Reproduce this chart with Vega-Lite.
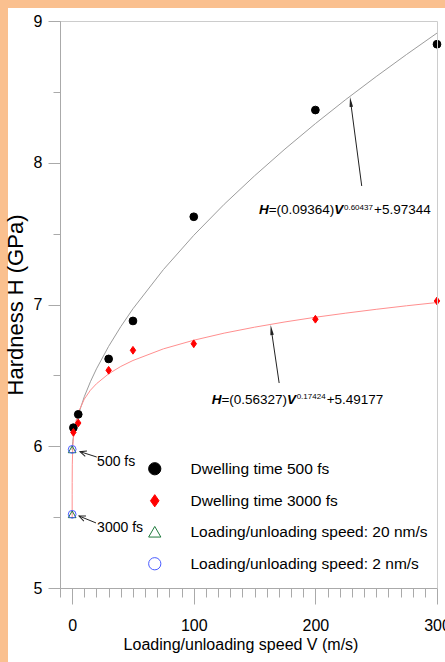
{
  "$schema": "https://vega.github.io/schema/vega-lite/v6.json",
  "width": 377,
  "height": 567,
  "autosize": {"type": "none"},
  "padding": {"left": 60, "top": 21, "right": 8, "bottom": 74},
  "background": "#FAC08F",
  "config": {
    "view": {"stroke": null},
    "axis": {"grid": false, "domainColor": "#aaaaaa", "tickColor": "#aaaaaa", "labelColor": "#000000", "titleColor": "#000000", "labelFlush": false, "labelOverlap": false}
  },
  "datasets": {
    "panel": [{"V": -52.76, "V2": 330, "H": 9.0917, "H2": 4.3}],
    "points": [
      {"V": 1, "H": 6.131, "series": "Dwelling time 500 fs"},
      {"V": 5, "H": 6.225, "series": "Dwelling time 500 fs"},
      {"V": 30, "H": 6.616, "series": "Dwelling time 500 fs"},
      {"V": 50, "H": 6.884, "series": "Dwelling time 500 fs"},
      {"V": 100, "H": 7.619, "series": "Dwelling time 500 fs"},
      {"V": 200, "H": 8.372, "series": "Dwelling time 500 fs"},
      {"V": 300, "H": 8.836, "series": "Dwelling time 500 fs"},
      {"V": 1, "H": 6.098, "series": "Dwelling time 3000 fs"},
      {"V": 5, "H": 6.164, "series": "Dwelling time 3000 fs"},
      {"V": 30, "H": 6.536, "series": "Dwelling time 3000 fs"},
      {"V": 50, "H": 6.677, "series": "Dwelling time 3000 fs"},
      {"V": 100, "H": 6.723, "series": "Dwelling time 3000 fs"},
      {"V": 200, "H": 6.896, "series": "Dwelling time 3000 fs"},
      {"V": 300, "H": 7.025, "series": "Dwelling time 3000 fs"},
      {"V": 0, "H": 5.978, "series": "Loading/unloading speed: 20 nm/s"},
      {"V": 0, "H": 5.520, "series": "Loading/unloading speed: 20 nm/s"},
      {"V": 0, "H": 5.978, "series": "Loading/unloading speed: 2 nm/s"},
      {"V": 0, "H": 5.520, "series": "Loading/unloading speed: 2 nm/s"}
    ],
    "fit500": [
      {"V": 0, "H": 5.973}, {"V": 0.01, "H": 5.979}, {"V": 0.1, "H": 5.997}, {"V": 0.5, "H": 6.035},
      {"V": 1, "H": 6.067}, {"V": 2, "H": 6.116}, {"V": 3, "H": 6.155}, {"V": 5, "H": 6.221},
      {"V": 10, "H": 6.350}, {"V": 15, "H": 6.455}, {"V": 20, "H": 6.546}, {"V": 30, "H": 6.705},
      {"V": 40, "H": 6.844}, {"V": 50, "H": 6.970}, {"V": 75, "H": 7.246}, {"V": 100, "H": 7.488},
      {"V": 125, "H": 7.707}, {"V": 150, "H": 7.908}, {"V": 175, "H": 8.097}, {"V": 200, "H": 8.276},
      {"V": 225, "H": 8.446}, {"V": 250, "H": 8.608}, {"V": 275, "H": 8.764}, {"V": 300, "H": 8.915}
    ],
    "fit3000": [
      {"V": 0, "H": 5.492}, {"V": 0.001, "H": 5.661}, {"V": 0.01, "H": 5.744}, {"V": 0.1, "H": 5.869},
      {"V": 0.5, "H": 5.991}, {"V": 1, "H": 6.055}, {"V": 2, "H": 6.127}, {"V": 3, "H": 6.174},
      {"V": 5, "H": 6.237}, {"V": 10, "H": 6.333}, {"V": 15, "H": 6.395}, {"V": 20, "H": 6.441},
      {"V": 30, "H": 6.511}, {"V": 40, "H": 6.563}, {"V": 50, "H": 6.605}, {"V": 75, "H": 6.687},
      {"V": 100, "H": 6.748}, {"V": 125, "H": 6.798}, {"V": 150, "H": 6.840}, {"V": 175, "H": 6.877},
      {"V": 200, "H": 6.910}, {"V": 225, "H": 6.939}, {"V": 250, "H": 6.966}, {"V": 275, "H": 6.991},
      {"V": 300, "H": 7.014}
    ],
    "arrows": [
      {"V": 238.1, "H": 7.836, "V2": 229.0, "H2": 8.429},
      {"V": 170.2, "H": 6.446, "V2": 163.8, "H2": 6.820},
      {"V": 20.2, "H": 5.924, "V2": 6.45, "H2": 5.962},
      {"V": 19.6, "H": 5.459, "V2": 5.62, "H2": 5.508}
    ],
    "fsLabels": [
      {"V": 20.5, "H": 5.889, "t": "500 fs"},
      {"V": 20.5, "H": 5.421, "t": "3000 fs"}
    ],
    "eqBold": [
      {"V": 153.6, "H": 7.638, "t": "H"},
      {"V": 215.6, "H": 7.638, "t": "V"},
      {"V": 114.7, "H": 6.298, "t": "H"},
      {"V": 176.7, "H": 6.298, "t": "V"}
    ],
    "eqReg": [
      {"V": 161.6, "H": 7.638, "t": "=(0.09364)"},
      {"V": 248.2, "H": 7.638, "t": "+5.97344"},
      {"V": 122.7, "H": 6.298, "t": "=(0.56327)"},
      {"V": 209.3, "H": 6.298, "t": "+5.49177"}
    ],
    "eqSup": [
      {"V": 223.5, "H": 7.670, "t": "0.60437"},
      {"V": 184.6, "H": 6.330, "t": "0.17424"}
    ]
  },
  "encoding": {
    "x": {"field": "V", "type": "quantitative", "scale": {"domain": [-10, 300], "nice": false, "zero": false}, "axis": null},
    "y": {"field": "H", "type": "quantitative", "scale": {"domain": [5, 9], "nice": false, "zero": false}, "axis": null}
  },
  "resolve": {"axis": {"x": "independent", "y": "independent"}},
  "layer": [
    {
      "data": {"name": "panel"},
      "mark": {"type": "rect", "color": "#ffffff", "opacity": 1},
      "encoding": {"x2": {"field": "V2"}, "y2": {"field": "H2"}}
    },
    {
      "data": {"name": "fit500"},
      "mark": {"type": "line", "color": "#9c9c9c", "strokeWidth": 1},
      "encoding": {
        "x": {"field": "V", "type": "quantitative", "scale": {"domain": [-10, 300], "nice": false, "zero": false},
          "axis": {"orient": "bottom", "zindex": 1, "values": [-10, 0, 10, 20, 30, 40, 50, 60, 70, 80, 90, 100, 110, 120, 130, 140, 150, 160, 170, 180, 190, 200, 210, 220, 230, 240, 250, 260, 270, 280, 290, 300], "tickSize": 9, "labels": false, "title": null}},
        "y": {"field": "H", "type": "quantitative", "scale": {"domain": [5, 9], "nice": false, "zero": false},
          "axis": {"orient": "left", "zindex": 1, "values": [5.5, 6.5, 7.5, 8.5], "tickSize": 7, "labels": false, "title": null}}
      }
    },
    {
      "data": {"name": "fit3000"},
      "mark": {"type": "line", "color": "#ff8f8f", "strokeWidth": 1},
      "encoding": {
        "x": {"field": "V", "type": "quantitative", "scale": {"domain": [-10, 300], "nice": false, "zero": false},
          "axis": {"orient": "top", "zindex": 1, "ticks": false, "labels": false, "title": null, "domainColor": "#cccccc"}},
        "y": {"field": "H", "type": "quantitative", "scale": {"domain": [5, 9], "nice": false, "zero": false},
          "axis": {"orient": "right", "zindex": 1, "ticks": false, "labels": false, "title": null, "domainColor": "#cccccc"}}
      }
    },
    {
      "data": {"name": "arrows"},
      "mark": {"type": "rule", "color": "#222222", "strokeWidth": 1},
      "encoding": {"x2": {"field": "V2"}, "y2": {"field": "H2"}}
    },
    {
      "data": {"values": [{"V": 229.0, "H": 8.429}]},
      "mark": {"type": "point", "shape": "M0,-1L0.35,1L-0.35,1Z", "filled": true, "color": "#222222", "size": 100, "angle": -7.5, "opacity": 1}
    },
    {
      "data": {"values": [{"V": 163.8, "H": 6.820}]},
      "mark": {"type": "point", "shape": "M0,-1L0.35,1L-0.35,1Z", "filled": true, "color": "#222222", "size": 100, "angle": -8.1, "opacity": 1}
    },
    {
      "data": {"values": [{"V": 9.57, "H": 5.953}]},
      "mark": {"type": "point", "shape": "M-0.7,0.6L0,-1L0.7,0.6", "filled": false, "color": "#222222", "strokeWidth": 1, "size": 64, "angle": -72.4, "opacity": 1}
    },
    {
      "data": {"values": [{"V": 8.67, "H": 5.497}]},
      "mark": {"type": "point", "shape": "M-0.7,0.6L0,-1L0.7,0.6", "filled": false, "color": "#222222", "strokeWidth": 1, "size": 64, "angle": -67.6, "opacity": 1}
    },
    {
      "data": {"name": "points"},
      "mark": {"type": "point", "strokeWidth": 1, "opacity": 1, "size": 60},
      "encoding": {
        "x": {"field": "V", "type": "quantitative", "scale": {"domain": [-10, 300], "nice": false, "zero": false},
          "axis": {"orient": "bottom", "zindex": 1, "values": [0, 100, 200, 300], "tickSize": 16, "labelFont": "Liberation Sans", "labelFontSize": 16, "labelPadding": 13,
            "title": "Loading/unloading speed V (m/s)", "titleFont": "Liberation Sans", "titleFontSize": 16, "titleFontWeight": "normal",
            "titleX": 180.5, "titleY": 61, "titleBaseline": "alphabetic", "titleAlign": "center"}},
        "y": {"field": "H", "type": "quantitative", "scale": {"domain": [5, 9], "nice": false, "zero": false},
          "axis": {"orient": "left", "zindex": 1, "values": [5, 6, 7, 8, 9], "tickSize": 12, "labelFont": "Liberation Sans", "labelFontSize": 16, "labelPadding": 6,
            "title": "Hardness H (GPa)", "titleFont": "Liberation Sans", "titleFontSize": 22, "titleFontWeight": "normal",
            "titleX": -38, "titleY": 283.5, "titleAngle": -90, "titleBaseline": "alphabetic", "titleAlign": "center"}},
        "shape": {"field": "series", "type": "nominal",
          "scale": {"domain": ["Dwelling time 500 fs", "Dwelling time 3000 fs", "Loading/unloading speed: 20 nm/s", "Loading/unloading speed: 2 nm/s"],
            "range": ["circle", "M0,-1L0.7,0L0,1L-0.7,0Z", "triangle-up", "circle"]},
          "legend": {"title": null, "orient": "none", "legendX": 87, "legendY": 440, "padding": 0, "labelFont": "Liberation Sans", "labelFontSize": 15.5, "labelColor": "#000000", "labelLimit": 400, "rowPadding": 14, "labelOffset": 28, "symbolSize": 150, "symbolStrokeWidth": 1,
            "encode": {"symbols": {"update": {"size": {"signal": "datum.value === 'Dwelling time 500 fs' ? 160 : datum.value === 'Dwelling time 3000 fs' ? 170 : datum.value === 'Loading/unloading speed: 20 nm/s' ? 75 : 95"}}}}}},
        "fill": {"field": "series", "type": "nominal",
          "scale": {"domain": ["Dwelling time 500 fs", "Dwelling time 3000 fs", "Loading/unloading speed: 20 nm/s", "Loading/unloading speed: 2 nm/s"],
            "range": ["#000000", "#ff0000", "transparent", "transparent"]},
          "legend": {"title": null, "orient": "none", "legendX": 87, "legendY": 440, "padding": 0, "labelFont": "Liberation Sans", "labelFontSize": 15.5, "labelColor": "#000000", "labelLimit": 400, "rowPadding": 14, "labelOffset": 28, "symbolSize": 150, "symbolStrokeWidth": 1}},
        "stroke": {"field": "series", "type": "nominal",
          "scale": {"domain": ["Dwelling time 500 fs", "Dwelling time 3000 fs", "Loading/unloading speed: 20 nm/s", "Loading/unloading speed: 2 nm/s"],
            "range": ["#000000", "#ff0000", "#1f7a3d", "#4a5cff"]},
          "legend": {"title": null, "orient": "none", "legendX": 87, "legendY": 440, "padding": 0, "labelFont": "Liberation Sans", "labelFontSize": 15.5, "labelColor": "#000000", "labelLimit": 400, "rowPadding": 14, "labelOffset": 28, "symbolSize": 150, "symbolStrokeWidth": 1}}
      }
    },
    {
      "data": {"name": "fsLabels"},
      "mark": {"type": "text", "align": "left", "baseline": "middle", "font": "Liberation Sans", "fontSize": 14, "color": "#000000"},
      "encoding": {"text": {"field": "t"}}
    },
    {
      "data": {"name": "eqBold"},
      "mark": {"type": "text", "align": "left", "baseline": "alphabetic", "font": "Liberation Sans", "fontSize": 13.5, "fontStyle": "italic", "fontWeight": "bold", "color": "#000000"},
      "encoding": {"text": {"field": "t"}}
    },
    {
      "data": {"name": "eqReg"},
      "mark": {"type": "text", "align": "left", "baseline": "alphabetic", "font": "Liberation Sans", "fontSize": 13.5, "color": "#000000"},
      "encoding": {"text": {"field": "t"}}
    },
    {
      "data": {"name": "eqSup"},
      "mark": {"type": "text", "align": "left", "baseline": "alphabetic", "font": "Liberation Sans", "fontSize": 8, "color": "#000000"},
      "encoding": {"text": {"field": "t"}}
    }
  ]
}
